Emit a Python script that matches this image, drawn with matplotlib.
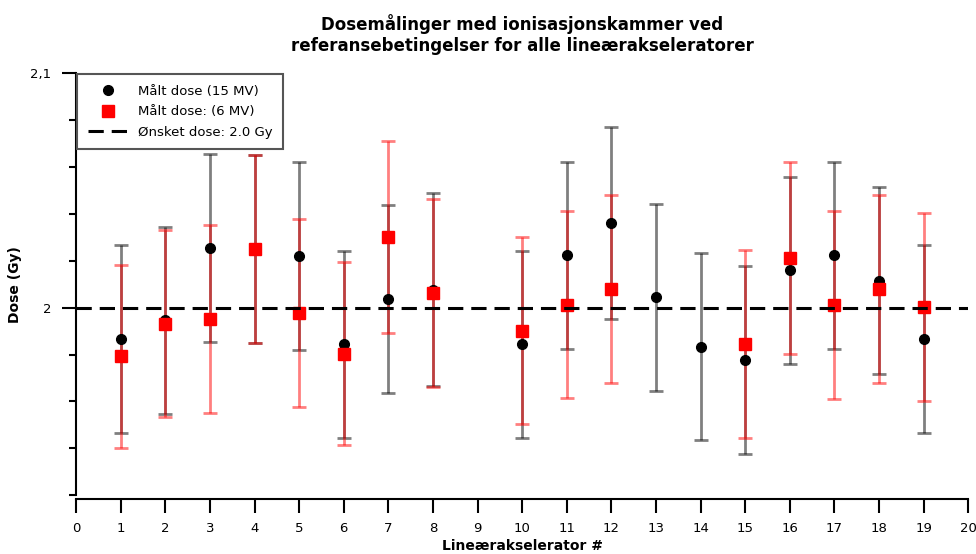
import numpy as np
import matplotlib.pyplot as plt
from matplotlib.ticker import MultipleLocator, FuncFormatter

# linear accelerator numbers and measured doses (Gy)
acc_15mv = [1, 2, 3, 4, 5, 6, 7, 8, 10, 11, 12, 13, 14, 15, 16, 17, 18, 19]
dose_15mv = [1.9867, 1.9946, 2.0254, 2.0251, 2.0221, 1.9843, 2.0038, 2.0077, 1.9843,
             2.0223, 2.0362, 2.0044, 1.9834, 1.9777, 2.0159, 2.0223, 2.0115, 1.9867]
err_15mv = [0.040, 0.040, 0.040, 0.040, 0.040, 0.040, 0.040, 0.041, 0.040,
            0.040, 0.041, 0.040, 0.040, 0.040, 0.040, 0.040, 0.040, 0.040]

acc_6mv = [1, 2, 3, 4, 5, 6, 7, 8, 10, 11, 12, 15, 16, 17, 18, 19]
dose_6mv = [1.9793, 1.9932, 1.9952, 2.0251, 1.9977, 1.9804, 2.0301, 2.0062, 1.9902,
            2.0013, 2.0080, 1.9844, 2.0213, 2.0010, 2.0080, 2.0003]
err_6mv = [0.039, 0.040, 0.040, 0.040, 0.040, 0.039, 0.041, 0.040, 0.040,
           0.040, 0.040, 0.040, 0.041, 0.040, 0.040, 0.040]

target_dose = 2.0

plt.rcParams['font.family'] = 'DejaVu Sans'
fig = plt.figure(figsize=(9.76, 5.54), dpi=100)
ax = fig.add_axes([0.078, 0.106, 0.914, 0.762])

ax.errorbar(acc_15mv, dose_15mv, yerr=err_15mv, fmt='none', ecolor='black', alpha=0.5,
            elinewidth=2, capsize=5, capthick=2, zorder=2)
ax.errorbar(acc_6mv, dose_6mv, yerr=err_6mv, fmt='none', ecolor='red', alpha=0.5,
            elinewidth=2, capsize=5, capthick=2, zorder=3)
ax.plot(acc_15mv, dose_15mv, 'o', color='black', markersize=7, zorder=4,
        label='Målt dose (15 MV)')
ax.plot(acc_6mv, dose_6mv, 's', color='red', markersize=8, zorder=5,
        label='Målt dose: (6 MV)')
ax.axhline(target_dose, color='black', lw=2.2, dashes=(5, 2.6), zorder=6,
           label='Ønsket dose: 2.0 Gy')

ax.set_xlim(0, 20)
ax.set_ylim(1.92, 2.1)
ax.xaxis.set_major_locator(MultipleLocator(1))
ax.yaxis.set_major_locator(MultipleLocator(0.1))
ax.yaxis.set_minor_locator(MultipleLocator(0.02))
ax.yaxis.set_major_formatter(FuncFormatter(lambda v, p: ('%g' % round(v, 3)).replace('.', ',')))

for s in ['top', 'right']:
    ax.spines[s].set_visible(False)
ax.spines['bottom'].set_position(('outward', 3))
ax.spines['left'].set_linewidth(1.5)
ax.spines['bottom'].set_linewidth(1.5)
ax.tick_params(axis='both', which='major', length=10, width=1.5, labelsize=9.5)
ax.tick_params(axis='x', which='major', pad=6)
ax.tick_params(axis='y', which='major', pad=8)
ax.tick_params(axis='y', which='minor', length=5, width=1.5)

ax.set_xlabel('Lineærakselerator #', fontsize=10, fontweight='bold', labelpad=3)
ax.set_ylabel('Dose (Gy)', fontsize=10, fontweight='bold', labelpad=6)
ax.set_title('Dosemålinger med ionisasjonskammer ved\nreferansebetingelser for alle lineærakseleratorer',
             fontsize=12, fontweight='bold', pad=16)

leg = ax.legend(loc='upper left', fontsize=9.5, fancybox=False, borderaxespad=0.1,
                edgecolor='#555555', handlelength=3.0, labelspacing=0.55, borderpad=0.8,
                handletextpad=0.8)
leg.get_frame().set_linewidth(1.5)
leg.get_frame().set_alpha(1)

plt.savefig('out.png', dpi=100)
